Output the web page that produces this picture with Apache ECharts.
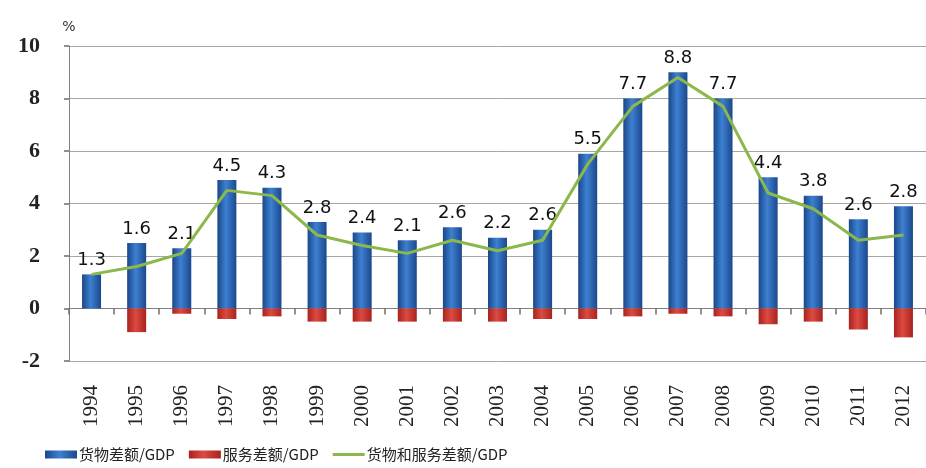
<!DOCTYPE html>
<html>
<head>
<meta charset="utf-8">
<script src="https://cdn.jsdelivr.net/npm/echarts@6/dist/echarts.min.js"></script>
<style>
html, body { margin: 0; padding: 0; background: #fff; }
#chart { width: 926px; height: 468px; }
</style>
</head>
<body>
<div id="chart"></div>
<script>
// 年份
var years = ['1994', '1995', '1996', '1997', '1998', '1999', '2000', '2001', '2002', '2003',
    '2004', '2005', '2006', '2007', '2008', '2009', '2010', '2011', '2012'];
// 货物差额/GDP
var goods = [1.3, 2.5, 2.3, 4.9, 4.6, 3.3, 2.9, 2.6, 3.1, 2.7, 3.0, 5.9, 8.0, 9.0, 8.0, 5.0, 4.3, 3.4, 3.9];
// 服务差额/GDP
var services = [0, -0.9, -0.2, -0.4, -0.3, -0.5, -0.5, -0.5, -0.5, -0.5, -0.4, -0.4, -0.3, -0.2, -0.3, -0.6, -0.5, -0.8, -1.1];
// 货物和服务差额/GDP
var total = [1.3, 1.6, 2.1, 4.5, 4.3, 2.8, 2.4, 2.1, 2.6, 2.2, 2.6, 5.5, 7.7, 8.8, 7.7, 4.4, 3.8, 2.6, 2.8];
var yTicks = [-2, 0, 2, 4, 6, 8, 10];

var chart = echarts.init(document.getElementById('chart'));

var blueGrad = new echarts.graphic.LinearGradient(0, 0, 1, 0, [
    {offset: 0, color: '#1a4788'},
    {offset: 0.45, color: '#3d80d2'},
    {offset: 1, color: '#1b488b'}
]);
var redGrad = new echarts.graphic.LinearGradient(0, 0, 1, 0, [
    {offset: 0, color: '#a8221d'},
    {offset: 0.45, color: '#dc4a42'},
    {offset: 1, color: '#a8231e'}
]);

var option = {
    backgroundColor: '#fff',
    animation: false,
    grid: {
        left: 69,
        right: -7,
        top: 46,
        bottom: 107
    },
    legend: {
        left: 40,
        top: 442,
        itemGap: 14,
        itemWidth: 32,
        itemHeight: 8,
        textStyle: {fontFamily: 'Noto Sans CJK SC', fontSize: 15, color: '#222', padding: [0, 0, 0, -3]},
        data: [
            {name: '货物差额/GDP', icon: 'rect'},
            {name: '服务差额/GDP', icon: 'rect'},
            {name: '货物和服务差额/GDP', icon: 'path://M0,0L32,0L32,3L0,3Z'}
        ]
    },
    xAxis: [{
        type: 'category',
        data: years,
        position: 'bottom',
        axisLine: {show: false, onZero: false},
        axisTick: {show: false},
        axisLabel: {
            rotate: 90,
            margin: 24,
            interval: 0,
            fontFamily: 'Liberation Serif',
            fontSize: 21,
            color: '#222'
        }
    }, {
        type: 'category',
        data: years,
        position: 'top',
        axisLine: {show: true, onZero: true, lineStyle: {color: '#808080', width: 1}},
        axisTick: {show: true, inside: true, length: 6, lineStyle: {color: '#6e6e6e', width: 1.5}},
        axisLabel: {show: false}
    }],
    yAxis: {
        type: 'value',
        min: yTicks[0],
        max: yTicks[yTicks.length - 1],
        interval: 2,
        name: '%',
        nameGap: 12,
        nameTextStyle: {fontFamily: 'DejaVu Sans', fontSize: 14, color: '#333', align: 'center'},
        axisLine: {show: true, lineStyle: {color: '#808080'}},
        axisTick: {show: true, length: 5, lineStyle: {color: '#6e6e6e', width: 1.5}},
        splitLine: {lineStyle: {color: '#a6a6a6'}},
        axisLabel: {
            margin: 29,
            fontFamily: 'Liberation Serif',
            fontWeight: 'bold',
            fontSize: 22,
            color: '#222'
        }
    },
    series: [{
        name: '货物差额/GDP',
        type: 'bar',
        data: goods,
        barWidth: 19,
        barGap: '-100%',
        itemStyle: {color: blueGrad},
        label: {
            show: true,
            position: 'top',
            distance: 5,
            fontFamily: 'DejaVu Sans',
            fontSize: 18,
            color: '#111',
            formatter: function (p) { return total[p.dataIndex].toFixed(1); }
        }
    }, {
        name: '服务差额/GDP',
        type: 'bar',
        data: services,
        barWidth: 19,
        barGap: '-100%',
        itemStyle: {color: redGrad}
    }, {
        name: '货物和服务差额/GDP',
        type: 'line',
        data: total,
        symbol: 'none',
        lineStyle: {color: '#8cb84b', width: 3},
        itemStyle: {color: '#8cb84b'},
        z: 5
    }]
};
chart.setOption(option);
</script>
</body>
</html>
